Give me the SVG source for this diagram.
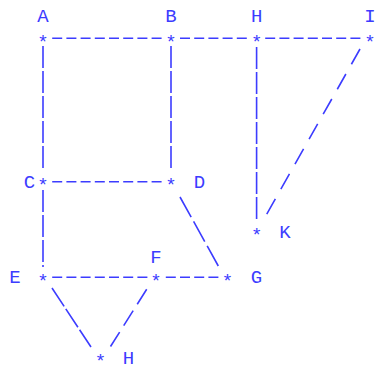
<svg xmlns="http://www.w3.org/2000/svg" width="375" height="367" viewBox="0 0 375 367">
<style>
text{font-family:"Courier New","Liberation Mono",monospace;fill:#3c3cff;text-anchor:middle}
.lb{font-size:19px}
.st{font-size:19px}
.h{stroke:#3c3cff;stroke-width:1.6;fill:none;stroke-dasharray:10 4.2}
.v{stroke:#3c3cff;stroke-width:1.6;fill:none;stroke-dasharray:22 3}
.d{stroke:#3c3cff;stroke-width:1.6;fill:none}
</style>
<rect width="375" height="367" fill="#ffffff"/>
<g id="connectors">
<line class="h" x1="52.2" y1="38.3" x2="161.6" y2="38.3"/>
<line class="h" x1="180" y1="38.3" x2="246.8" y2="38.3"/>
<line class="h" x1="265.2" y1="38.3" x2="360.4" y2="38.3"/>
<line class="h" x1="52.2" y1="181.7" x2="161.6" y2="181.7"/>
<line class="h" x1="52.2" y1="277.3" x2="147.4" y2="277.3"/>
<line class="h" x1="165.8" y1="277.3" x2="218.4" y2="277.3"/>
<line class="v" x1="43" y1="46" x2="43" y2="170"/>
<line class="v" x1="171" y1="46" x2="171" y2="170"/>
<line class="v" x1="256.6" y1="47" x2="256.6" y2="219"/>
<line class="v" x1="43" y1="190" x2="43" y2="267"/>
<line class="d" x1="180" y1="197" x2="218.3" y2="266" stroke-dasharray="23 5"/>
<line class="d" x1="360" y1="49" x2="266.7" y2="214.3" stroke-dasharray="17.5 11.2"/>
<line class="d" x1="52" y1="288" x2="91" y2="347" stroke-dasharray="22 3"/>
<line class="d" x1="146.7" y1="289.3" x2="110.5" y2="346.5" stroke-dasharray="17.7 7.6"/>
</g>
<g id="node-A"><text class="st" x="43" y="47.5">*</text><text class="lb" x="43" y="21.7">A</text></g>
<g id="node-B"><text class="st" x="171" y="47.5">*</text><text class="lb" x="171" y="21.7">B</text></g>
<g id="node-H"><text class="st" x="256.6" y="47.5">*</text><text class="lb" x="256.6" y="21.7">H</text></g>
<g id="node-I"><text class="st" x="370" y="47.5">*</text><text class="lb" x="370" y="21.7">I</text></g>
<g id="node-C"><text class="st" x="43" y="190.9">*</text><text class="lb" x="29.5" y="187.5">C</text></g>
<g id="node-D"><text class="st" x="171" y="190.9">*</text><text class="lb" x="199.4" y="187.5">D</text></g>
<g id="node-K"><text class="st" x="256.6" y="240.9">*</text><text class="lb" x="285" y="237.5">K</text></g>
<g id="node-E"><text class="st" x="43" y="286.5">*</text><text class="lb" x="15" y="283.3">E</text></g>
<g id="node-F"><text class="st" x="156" y="286.5">*</text><text class="lb" x="156" y="262.5">F</text></g>
<g id="node-G"><text class="st" x="227.5" y="286.5">*</text><text class="lb" x="256.5" y="283.3">G</text></g>
<g id="node-H2"><text class="st" x="100.5" y="366.5">*</text><text class="lb" x="128.5" y="363.5">H</text></g>
</svg>
